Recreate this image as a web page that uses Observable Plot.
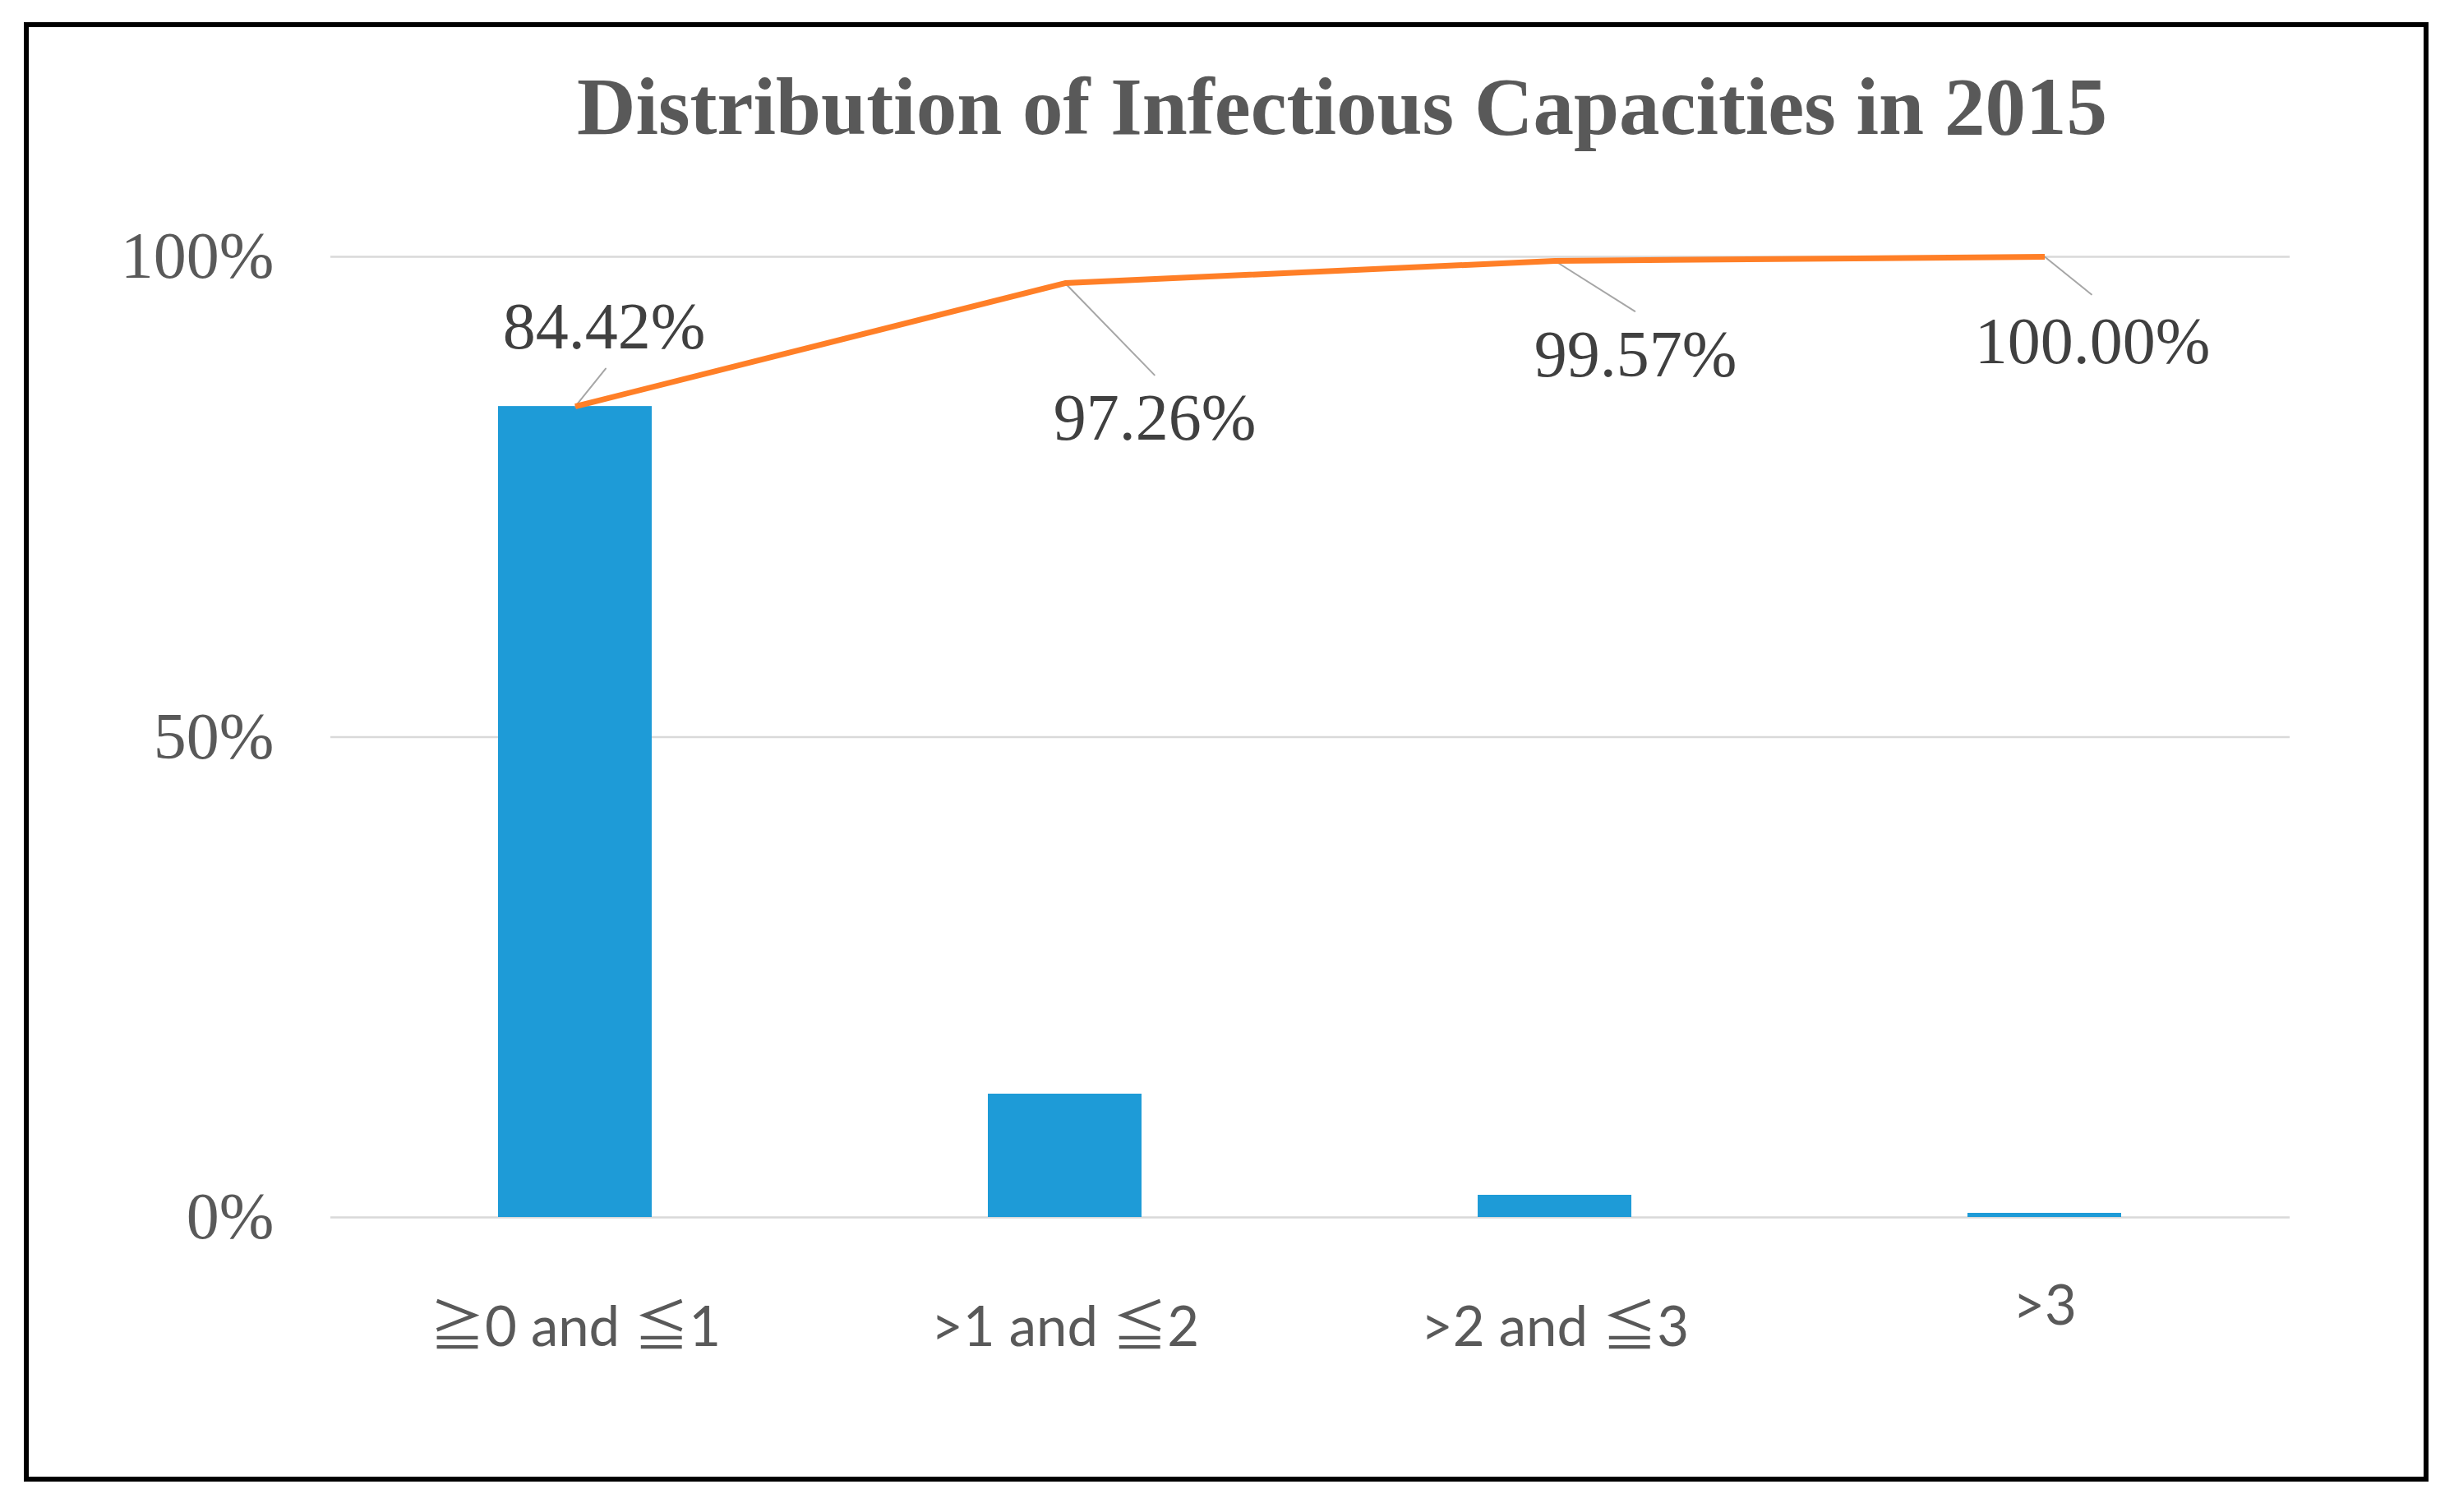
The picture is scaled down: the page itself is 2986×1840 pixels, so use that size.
<!DOCTYPE html>
<html>
<head>
<meta charset="utf-8">
<script src="https://cdn.jsdelivr.net/npm/d3@7"></script>
<script src="https://cdn.jsdelivr.net/npm/@observablehq/plot@0.6"></script>
<style>
  html, body { margin: 0; padding: 0; background: #ffffff; }
  body { width: 2986px; height: 1840px; position: relative; overflow: hidden; }
  #frame { position: absolute; left: 29px; top: 27px; width: 2926px; height: 1776px;
           box-sizing: border-box; border: 6px solid #000; }
  #title { position: absolute; left: 633px; top: 80px; width: 2000px; text-align: center;
           font-family: "Liberation Serif", "Times New Roman", serif; font-weight: bold;
           font-size: 99px; line-height: 100px; color: #595959; white-space: nowrap; }
  #chart { position: absolute; left: 0; top: 200px; }
</style>
</head>
<body>
<div id="frame"></div>
<div id="title">Distribution of Infectious Capacities in 2015</div>
<div id="chart"></div>
<script>
// ---- data ----
const categories = ["≧0 and ≦1", ">1 and ≦2", ">2 and ≦3", ">3"];
const shares = [0.8442, 0.1284, 0.0231, 0.0043];        // bar heights
const cumulative = [0.8442, 0.9726, 0.9957, 1.0000];   // Pareto line
const cumulativeLabels = ["84.42%", "97.26%", "99.57%", "100.00%"];
const yTicks = [0, 0.5, 1];

const rows = categories.map((c, i) => ({
  category: c, share: shares[i], cum: cumulative[i], label: cumulativeLabels[i]
}));

// label placement nudges (pixel offsets, like manually dragged Excel labels)
const labelNudges = [
  {dx: 35, dy: -96, len: 59, rot: 38.8},
  {dx: 109, dy: 165, len: 156, rot: 135.8},
  {dx: 98, dy: 115, len: 115, rot: 122.2},
  {dx: 58, dy: 104, len: 73, rot: 128.9}
];

const leaderShape = {
  draw(context, l) { context.moveTo(0, 0); context.lineTo(0, -l); }
};

const leaderMarks = [];
const labelMarks = [];
rows.forEach((r, i) => {
  const n = labelNudges[i];
  leaderMarks.push(Plot.vector([r], {
    x: "category", y: "cum", anchor: "start", length: n.len, rotate: n.rot,
    shape: leaderShape, stroke: "#A6A6A6", strokeWidth: 2
  }));
  labelMarks.push(Plot.text([r], {
    x: "category", y: "cum", text: "label", dx: n.dx, dy: n.dy,
    fill: "#404040", fontSize: 80, fontFamily: "Liberation Serif, Times New Roman, serif",
    textAnchor: "middle"
  }));
});

const xLabelStyle = {
  tickSize: 0, fontSize: 67, fill: "#595959",
  fontFamily: "Lato, 'Noto Sans CJK SC', 'DejaVu Sans', sans-serif"
};

const chart = Plot.plot({
  width: 2986,
  height: 1600,
  marginLeft: 402,
  marginRight: 200,
  marginTop: 112,
  marginBottom: 319,
  style: { background: "transparent", color: "#595959", overflow: "visible" },
  x: { type: "band", domain: categories, paddingInner: 0.686, paddingOuter: 0.343 },
  y: { domain: [0, 1] },
  marks: [
    Plot.gridY(yTicks, { stroke: "#D9D9D9", strokeOpacity: 1, strokeWidth: 2.5 }),
    Plot.axisY(yTicks, {
      tickSize: 0, tickPadding: 69, tickFormat: d3.format(".0%"),
      fontSize: 80, fill: "#595959", fontFamily: "Liberation Serif, Times New Roman, serif",
      label: null
    }),
    Plot.axisX(categories.slice(0, 3), { ...xLabelStyle, tickPadding: 109, label: null }),
    Plot.axisX(categories.slice(3), { ...xLabelStyle, tickPadding: 83, label: null }),
    Plot.barY(rows, { x: "category", y: "share", fill: "#1E9BD7" }),
    ...leaderMarks,
    Plot.line(rows, { x: "category", y: "cum", stroke: "#FF7F27", strokeWidth: 7,
      strokeLinejoin: "round", strokeLinecap: "butt" }),
    ...labelMarks
  ]
});
document.getElementById("chart").appendChild(chart);
</script>
</body>
</html>
